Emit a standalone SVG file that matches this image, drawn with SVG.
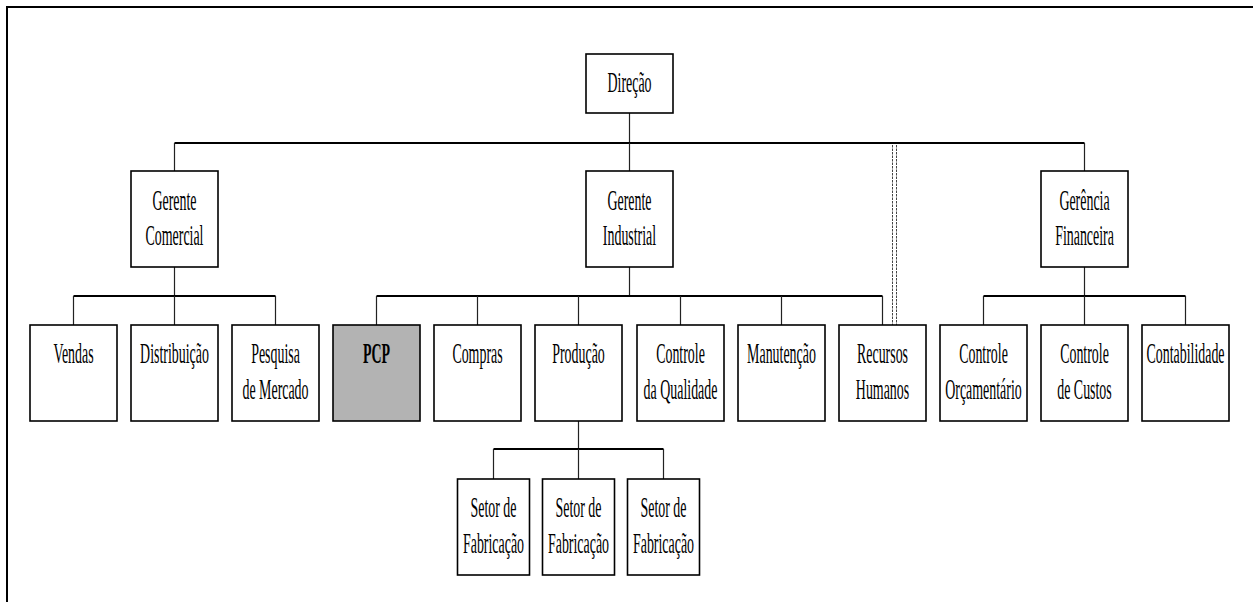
<svg xmlns="http://www.w3.org/2000/svg" width="1253" height="602" viewBox="0 0 1253 602">
  <style>
    .box { fill: #ffffff; stroke: #000000; stroke-width: 1.6; }
    .pcp { fill: #b3b3b3; }
    .lbl { font-family: "Liberation Serif", "Times New Roman", serif; font-size: 29px; text-anchor: middle; fill: #000000; }
    .bold { font-weight: bold; }
    .h { stroke: #000000; stroke-width: 2; fill: none; }
    .v { stroke: #222222; stroke-width: 1.2; fill: none; }
    .dash { stroke: #444444; stroke-width: 1; stroke-dasharray: 2.5 1; fill: none; }
    .frame { stroke: #000000; stroke-width: 2; fill: none; }
  </style>

  <rect width="1253" height="602" fill="#ffffff"/>
  <path class="frame" d="M7,602 V7 H1253"/>

  <!-- connectors -->
  <g id="connectors">
    <!-- top level -->
    <path class="v" d="M629.5,113 V143"/>
    <path class="h" d="M174.5,143 H1084.5"/>
    <path class="v" d="M174.5,143 V171 M629.5,143 V171 M1084.5,143 V171"/>
    <!-- comercial -->
    <path class="v" d="M174.5,267 V296"/>
    <path class="h" d="M73.5,296 H275.5"/>
    <path class="v" d="M73.5,296 V325 M174.5,296 V325 M275.5,296 V325"/>
    <!-- industrial -->
    <path class="v" d="M629.5,267 V296"/>
    <path class="h" d="M376.5,296 H882.5"/>
    <path class="v" d="M376.5,296 V325 M477.5,296 V325 M578.5,296 V325 M680.5,296 V325 M781.5,296 V325 M882.5,296 V325"/>
    <!-- financeira -->
    <path class="v" d="M1084.5,267 V296"/>
    <path class="h" d="M983.5,296 H1185.5"/>
    <path class="v" d="M983.5,296 V325 M1084.5,296 V325 M1185.5,296 V325"/>
    <!-- producao -->
    <path class="v" d="M578.5,421 V449"/>
    <path class="h" d="M493.5,449 H663.5"/>
    <path class="v" d="M493.5,449 V479 M578.5,449 V479 M663.5,449 V479"/>
    <!-- staff link to recursos humanos -->
    <path class="dash" d="M892.5,145 V325 M896.5,145 V325"/>
  </g>

  <g id="direcao">
    <rect class="box" x="586" y="54" width="87" height="59"/>
    <text class="lbl" transform="translate(629.5,92) scale(0.48,1)">Direção</text>
  </g>

  <g id="gerente-comercial">
    <rect class="box" x="131" y="171" width="87" height="96"/>
    <text class="lbl" transform="translate(174.5,209.5) scale(0.48,1)">Gerente</text>
    <text class="lbl" transform="translate(174.5,245) scale(0.48,1)">Comercial</text>
  </g>
  <g id="gerente-industrial">
    <rect class="box" x="586" y="171" width="87" height="96"/>
    <text class="lbl" transform="translate(629.5,209.5) scale(0.48,1)">Gerente</text>
    <text class="lbl" transform="translate(629.5,245) scale(0.48,1)">Industrial</text>
  </g>
  <g id="gerencia-financeira">
    <rect class="box" x="1041" y="171" width="87" height="96"/>
    <text class="lbl" transform="translate(1084.5,209.5) scale(0.48,1)">Gerência</text>
    <text class="lbl" transform="translate(1084.5,245) scale(0.48,1)">Financeira</text>
  </g>

  <g id="vendas">
    <rect class="box" x="30" y="325" width="87" height="96"/>
    <text class="lbl" transform="translate(73.5,363) scale(0.48,1)">Vendas</text>
  </g>
  <g id="distribuicao">
    <rect class="box" x="131" y="325" width="87" height="96"/>
    <text class="lbl" transform="translate(174.5,363) scale(0.48,1)">Distribuição</text>
  </g>
  <g id="pesquisa">
    <rect class="box" x="232" y="325" width="87" height="96"/>
    <text class="lbl" transform="translate(275.5,363) scale(0.48,1)">Pesquisa</text>
    <text class="lbl" transform="translate(275.5,399) scale(0.48,1)">de Mercado</text>
  </g>
  <g id="pcp">
    <rect class="box pcp" x="333" y="325" width="87" height="96"/>
    <text class="lbl bold" transform="translate(376.5,363) scale(0.48,1)">PCP</text>
  </g>
  <g id="compras">
    <rect class="box" x="434" y="325" width="87" height="96"/>
    <text class="lbl" transform="translate(477.5,363) scale(0.48,1)">Compras</text>
  </g>
  <g id="producao">
    <rect class="box" x="535" y="325" width="87" height="96"/>
    <text class="lbl" transform="translate(578.5,363) scale(0.48,1)">Produção</text>
  </g>
  <g id="controle-qualidade">
    <rect class="box" x="637" y="325" width="87" height="96"/>
    <text class="lbl" transform="translate(680.5,363) scale(0.48,1)">Controle</text>
    <text class="lbl" transform="translate(680.5,399) scale(0.48,1)">da Qualidade</text>
  </g>
  <g id="manutencao">
    <rect class="box" x="738" y="325" width="87" height="96"/>
    <text class="lbl" transform="translate(781.5,363) scale(0.48,1)">Manutenção</text>
  </g>
  <g id="recursos-humanos">
    <rect class="box" x="839" y="325" width="87" height="96"/>
    <text class="lbl" transform="translate(882.5,363) scale(0.48,1)">Recursos</text>
    <text class="lbl" transform="translate(882.5,399) scale(0.48,1)">Humanos</text>
  </g>
  <g id="controle-orcamentario">
    <rect class="box" x="940" y="325" width="87" height="96"/>
    <text class="lbl" transform="translate(983.5,363) scale(0.48,1)">Controle</text>
    <text class="lbl" transform="translate(983.5,399) scale(0.48,1)">Orçamentário</text>
  </g>
  <g id="controle-custos">
    <rect class="box" x="1041" y="325" width="87" height="96"/>
    <text class="lbl" transform="translate(1084.5,363) scale(0.48,1)">Controle</text>
    <text class="lbl" transform="translate(1084.5,399) scale(0.48,1)">de Custos</text>
  </g>
  <g id="contabilidade">
    <rect class="box" x="1142" y="325" width="87" height="96"/>
    <text class="lbl" transform="translate(1185.5,363) scale(0.48,1)">Contabilidade</text>
  </g>

  <g id="setor-1">
    <rect class="box" x="457.5" y="479" width="72" height="96"/>
    <text class="lbl" transform="translate(493.5,517) scale(0.48,1)">Setor de</text>
    <text class="lbl" transform="translate(493.5,553) scale(0.48,1)">Fabricação</text>
  </g>
  <g id="setor-2">
    <rect class="box" x="542.5" y="479" width="72" height="96"/>
    <text class="lbl" transform="translate(578.5,517) scale(0.48,1)">Setor de</text>
    <text class="lbl" transform="translate(578.5,553) scale(0.48,1)">Fabricação</text>
  </g>
  <g id="setor-3">
    <rect class="box" x="627.5" y="479" width="72" height="96"/>
    <text class="lbl" transform="translate(663.5,517) scale(0.48,1)">Setor de</text>
    <text class="lbl" transform="translate(663.5,553) scale(0.48,1)">Fabricação</text>
  </g>
</svg>
